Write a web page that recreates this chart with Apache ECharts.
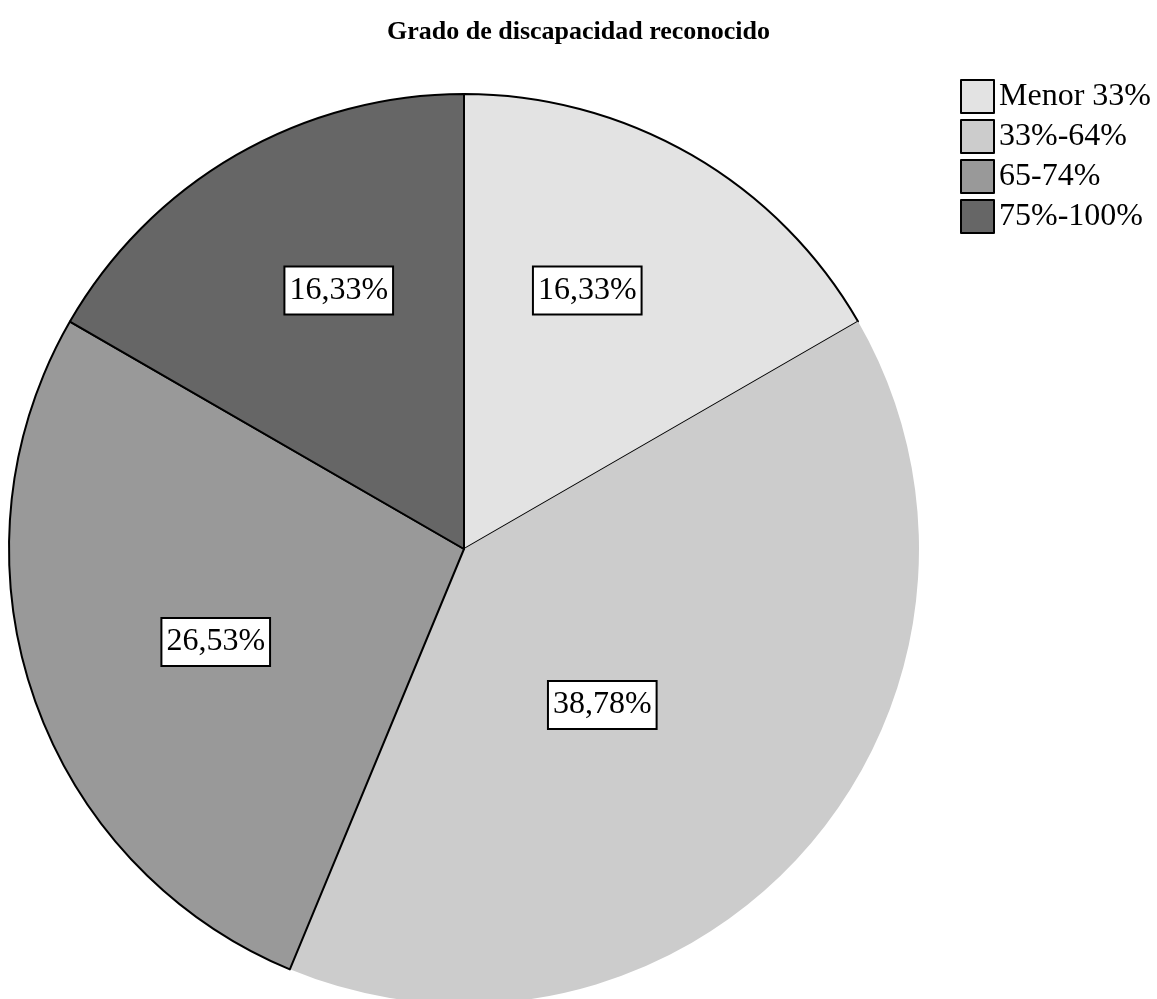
<!DOCTYPE html>
<html>
<head>
<meta charset="utf-8">
<style>
  html, body { margin: 0; padding: 0; background: #ffffff; }
  #chart { width: 1157px; height: 999px; }
</style>
<script src="https://cdn.jsdelivr.net/npm/echarts@6/dist/echarts.min.js"></script>
</head>
<body>
<div id="chart"></div>
<script>
// Recognised disability degree, share of respondents (%)
const categories = ['Menor 33%', '33%-64%', '65-74%', '75%-100%'];
const shares = [16.33, 38.78, 26.53, 16.33];

// Grey fill per category and outline width per slice
const fills = ['#e3e3e3', '#cccccc', '#999999', '#666666'];
const outlineWidths = [2, 0, 2, 2];
// Label nudges (px) away from the default inside position
const labelShift = [[8, -59], [-35, 4], [-30, 19], [-10, -59]];

const serif = '"Liberation Serif", "Times New Roman", serif';

const chart = echarts.init(document.getElementById('chart'), null, { renderer: 'canvas' });

chart.setOption({
  backgroundColor: '#ffffff',
  animation: false,
  title: {
    text: 'Grado de discapacidad reconocido',
    left: 'center',
    top: 14,
    textStyle: { fontFamily: serif, fontSize: 26, fontWeight: 'bold', color: '#000' }
  },
  legend: {
    orient: 'vertical',
    left: 960,
    top: 79,
    padding: 0,
    itemWidth: 33,
    itemHeight: 33,
    itemGap: 5,
    icon: 'rect',
    selectedMode: false,
    data: categories,
    itemStyle: { borderColor: '#000', borderWidth: 2 },
    textStyle: { fontFamily: serif, fontSize: 32, lineHeight: 33, color: '#000' }
  },
  series: [{
    type: 'pie',
    center: [464, 549],
    radius: [0, 455],
    startAngle: 90,
    clockwise: true,
    avoidLabelOverlap: false,
    silent: true,
    data: categories.map((name, i) => ({
      name: name,
      value: shares[i],
      itemStyle: { color: fills[i], borderColor: '#000', borderWidth: outlineWidths[i] }
    })),
    label: {
      show: true,
      position: 'inside',
      formatter: p => p.value.toFixed(2).replace('.', ',') + '%',
      fontFamily: serif,
      fontSize: 32,
      lineHeight: 38,
      color: '#000',
      backgroundColor: '#ffffff',
      borderColor: '#000',
      borderWidth: 2,
      padding: [4, 4, 4, 4]
    },
    labelLine: { show: false },
    labelLayout: p => ({ dx: labelShift[p.dataIndex][0], dy: labelShift[p.dataIndex][1] })
  }]
});
</script>
</body>
</html>
